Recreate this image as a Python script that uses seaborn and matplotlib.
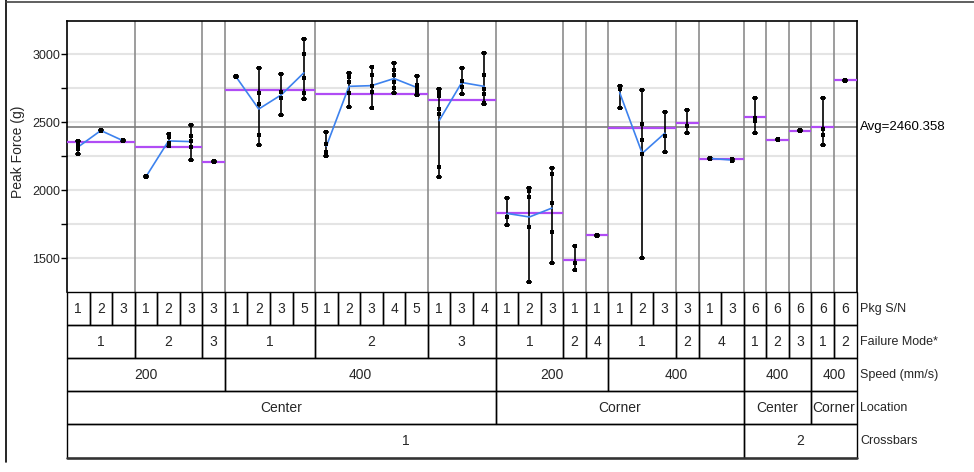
import numpy as np
import pandas as pd
import matplotlib
matplotlib.use("Agg")
import matplotlib.pyplot as plt
from matplotlib.lines import Line2D
from matplotlib.patches import Rectangle
import seaborn as sns

# ---- data ----
pkg_sn = ["1", "2", "3", "1", "2", "3", "3", "1", "2", "3", "5", "1", "2", "3", "4", "5",
          "1", "3", "4", "1", "2", "3", "1", "1", "1", "2", "3", "3", "1", "3",
          "6", "6", "6", "6", "6"]
failure_mode = ["1", "1", "1", "2", "2", "2", "3", "1", "1", "1", "1", "2", "2", "2", "2", "2",
                "3", "3", "3", "1", "1", "1", "2", "4", "1", "1", "1", "2", "4", "4",
                "1", "2", "3", "1", "2"]
speed = ["200"] * 7 + ["400"] * 12 + ["200"] * 5 + ["400"] * 6 + ["400"] * 5
location = ["Center"] * 19 + ["Corner"] * 11 + ["Center"] * 3 + ["Corner"] * 2
crossbars = ["1"] * 30 + ["2"] * 5

peak_force = [
    [2360, 2340, 2330, 2310, 2300, 2265],
    [2440, 2435],
    [2365, 2358],
    [2100, 2095],
    [2415, 2390, 2345, 2330, 2325],
    [2480, 2400, 2360, 2320, 2220],
    [2210, 2205],
    [2835, 2828],
    [2895, 2716, 2632, 2404, 2331],
    [2850, 2720, 2680, 2550],
    [3110, 3000, 2821, 2711, 2669],
    [2425, 2335, 2280, 2250],
    [2858, 2833, 2797, 2711, 2613],
    [2902, 2846, 2767, 2718, 2605],
    [2931, 2882, 2846, 2797, 2748, 2716],
    [2838, 2770, 2745, 2720, 2700],
    [2745, 2720, 2690, 2595, 2560, 2170, 2095],
    [2900, 2800, 2760, 2703],
    [3010, 2846, 2740, 2706, 2640, 2630],
    [1939, 1800, 1745],
    [2012, 1995, 1950, 1726, 1326],
    [2160, 2115, 1907, 1694, 1461],
    [1585, 1460, 1410],
    [1670, 1665],
    [2767, 2755, 2740, 2605],
    [2735, 2483, 2368, 2262, 1500],
    [2576, 2400, 2277],
    [2588, 2470, 2421],
    [2235, 2230],
    [2225, 2215],
    [2674, 2530, 2421, 2510],
    [2376, 2365],
    [2442, 2432],
    [2674, 2449, 2404, 2331],
    [2812, 2805],
]
overall_avg = 2460.358

row_names = ["Pkg S/N", "Failure Mode*", "Speed (mm/s)", "Location", "Crossbars"]
levels = [pkg_sn, failure_mode, speed, location, crossbars]

BLUE = "#3d82ee"
PURPLE = "#b04cf5"
SEP = "#8c8c8c"

n = len(pkg_sn)

# cell -> group (failure mode within speed/location/crossbars)
group_keys = list(zip(crossbars, location, speed, failure_mode))
group_id = []
g = -1
for i, k in enumerate(group_keys):
    if i == 0 or k != group_keys[i - 1]:
        g += 1
    group_id.append(g)

rows = []
for i, vals in enumerate(peak_force):
    for v in vals:
        rows.append({"pos": i + 0.5, "value": v, "group": group_id[i]})
df = pd.DataFrame(rows)

sns.set_theme(style="white")
plt.rcParams["font.family"] = ["Liberation Sans", "DejaVu Sans"]

W, H = 974, 472
fig = plt.figure(figsize=(W / 100, H / 100), dpi=100)

x0, x1 = 67, 856.5
y_top, y_mid, y_bot = 21, 292, 457.5
ax = fig.add_axes([x0 / W, 1 - y_mid / H, (x1 - x0) / W, (y_mid - y_top) / H])
axt = fig.add_axes([x0 / W, 1 - y_bot / H, (x1 - x0) / W, (y_bot - y_mid) / H])

# grid
for yv in np.arange(1500, 3250, 250):
    ax.axhline(yv, color="#e4e4e4", lw=1.5, zorder=0)

# group separators
bounds = [i for i in range(1, n) if group_id[i] != group_id[i - 1]]
for b in bounds:
    ax.axvline(b, color=SEP, lw=1.2, zorder=1)

# overall average
ax.axhline(overall_avg, color="#7a7a7a", lw=1.2, zorder=2)
ax.text(1.004, overall_avg, "Avg=2460.358", transform=ax.get_yaxis_transform(),
        ha="left", va="center", fontsize=9.5, color="black")

# group means (purple)
gm = df.groupby("group")["value"].mean()
for gid, mval in gm.items():
    cols = [i for i in range(n) if group_id[i] == gid]
    ax.hlines(mval, cols[0], cols[-1] + 1, color=PURPLE, lw=1.6, zorder=3)

# range bars
for i, vals in enumerate(peak_force):
    c = i + 0.5
    lo, hi = min(vals), max(vals)
    ax.vlines(c, lo, hi, color="black", lw=1.2, zorder=4)
    ax.hlines([lo, hi], c - 0.13, c + 0.13, color="black", lw=1.2, zorder=4)

# cell means connected within each group
sns.lineplot(data=df, x="pos", y="value", hue="group", estimator="mean", errorbar=None,
             palette=[BLUE] * df["group"].nunique(), legend=False, lw=1.2, ax=ax, zorder=5)

# individual points
sns.scatterplot(data=df, x="pos", y="value", marker="s", color="black", s=9,
                linewidth=0, ax=ax, zorder=6)

ax.set_xlim(0, n)
ax.set_ylim(1250, 3243)
ax.set_xticks([])
ax.set_yticks([1500, 2000, 2500, 3000])
ax.set_yticks(np.arange(1500, 3250, 250), minor=True)
ax.tick_params(axis="y", which="both", direction="out", length=4, width=1,
               color="black", left=True, labelsize=9, pad=1)
ax.set_xlabel("")
ax.set_ylabel("")
for side in ["top", "left", "right"]:
    ax.spines[side].set_color("black")
    ax.spines[side].set_linewidth(1.2)
ax.spines["bottom"].set_visible(False)
ax.set_facecolor("white")

fig.text(18 / W, 1 - 152 / H, "Peak Force (g)", rotation=90, ha="center", va="center",
         fontsize=10)

# ---- hierarchical label table ----
axt.set_xlim(0, n)
axt.set_ylim(len(levels), 0)
axt.axis("off")
for r, lev in enumerate(levels):
    keys = [tuple(levels[k][i] for k in range(r, len(levels))) for i in range(n)]
    start = 0
    for i in range(1, n + 1):
        if i == n or keys[i] != keys[start]:
            axt.add_patch(Rectangle((start, r), i - start, 1, fill=False, ec="black",
                                    lw=1.0, clip_on=False))
            axt.text((start + i) / 2, r + 0.5, lev[start], ha="center", va="center",
                     fontsize=10)
            start = i
    axt.text(1.005, r + 0.5, row_names[r], transform=axt.get_yaxis_transform(),
             ha="left", va="center", fontsize=9)
axt.plot([0, n], [len(levels), len(levels)], color="#333333", lw=1.8, clip_on=False)

# outer frame lines
fig.add_artist(Line2D([6 / W, 6 / W], [1, 1 - 462 / H], color="black", lw=1.2))
fig.add_artist(Line2D([6 / W, 1], [1 - 1.5 / H, 1 - 1.5 / H], color="#444444", lw=1.2))

fig.savefig("out.png", dpi=100, facecolor="white")
